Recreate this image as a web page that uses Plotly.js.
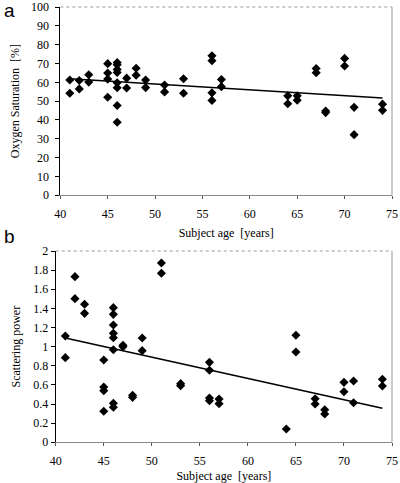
<!DOCTYPE html>
<html>
<head>
<meta charset="utf-8">
<script src="https://cdn.plot.ly/plotly-3.0.1.min.js"></script>
<style>
html,body{margin:0;padding:0;background:#fff;}
#chart{width:400px;height:483px;}
</style>
</head>
<body>
<div id="chart"></div>
<script>
// Panel a: oxygen saturation vs age
var ageA = [41,41,42,42,43,43,45,45,45,45,46,46,46,46,46,46,46,46,47,47,48,48,49,49,51,51,53,53,56,56,56,56,57,57,64,64,65,65,67,67,68,68,70,70,71,71,74,74];
var satA = [61.2,54.2,61.0,56.5,64.0,60.1,69.9,64.9,61.7,52.1,70.5,69.3,66.8,65.2,59.8,57.1,47.7,38.8,62.2,57.0,67.5,63.8,61.2,57.2,58.6,54.9,61.9,54.2,74.1,71.5,54.4,50.4,61.5,57.7,52.8,48.6,52.8,50.5,67.3,65.1,44.8,43.9,72.7,68.7,46.7,32.2,48.4,45.1];
var fitAgeA = [41, 74];
var fitSatA = [61.9, 51.7];

// Panel b: scattering power vs age
var ageB = [41,41,42,42,43,43,45,45,45,45,46,46,46,46,46,46,46,46,47,47,48,48,49,49,51,51,53,53,56,56,56,56,57,57,64,65,65,67,67,68,68,70,70,71,71,74,74];
var powB = [1.111,0.885,1.732,1.502,1.443,1.348,0.860,0.578,0.540,0.324,1.408,1.338,1.226,1.139,1.094,0.968,0.408,0.366,1.014,1.000,0.491,0.470,1.090,0.958,1.875,1.767,0.613,0.592,0.836,0.753,0.463,0.435,0.453,0.404,0.139,1.119,0.944,0.456,0.400,0.341,0.296,0.627,0.529,0.641,0.414,0.659,0.589];
var fitAgeB = [41, 74];
var fitPowB = [1.09, 0.355];

var xTicks = [40,45,50,55,60,65,70,75];
var yTicksA = [0,10,20,30,40,50,60,70,80,90,100];
var yTicksB = [0,0.2,0.4,0.6,0.8,1,1.2,1.4,1.6,1.8,2];
var yTickTextB = ['0','0.2','0.4','0.6','0.8','1','1.2','1.4','1.6','1.8','2'];

var serif = 'Liberation Serif';
var mk = {symbol:'diamond', size:7, color:'#000', line:{width:0}};

var traces = [
  {x:ageA, y:satA, type:'scatter', mode:'markers', marker:mk, xaxis:'x', yaxis:'y'},
  {x:fitAgeA, y:fitSatA, type:'scatter', mode:'lines', line:{color:'#000', width:1.6}, xaxis:'x', yaxis:'y'},
  {x:ageB, y:powB, type:'scatter', mode:'markers', marker:mk, xaxis:'x2', yaxis:'y2'},
  {x:fitAgeB, y:fitPowB, type:'scatter', mode:'lines', line:{color:'#000', width:1.6}, xaxis:'x2', yaxis:'y2'}
];

function xAxis(domain, anchor){
  return {
    domain: domain, anchor: anchor, range:[40,75], tickvals:xTicks,
    showgrid:false, zeroline:false, showline:true, linecolor:'#8a8a8a', linewidth:1,
    ticks:'outside', ticklen:3, tickcolor:'#555', tickwidth:1, ticklabelstandoff:4,
    ticklabeloverflow:'allow',
    tickfont:{family:serif, size:12, color:'#000'},
    title:{text:'Subject age\u00a0 [years]', font:{family:serif, size:12, color:'#000'}, standoff:8},
    automargin:false, fixedrange:true
  };
}

var layout = {
  width:400, height:483,
  margin:{l:0, r:0, t:0, b:0},
  paper_bgcolor:'#fff', plot_bgcolor:'#fff',
  showlegend:false,
  font:{family:serif},
  xaxis: xAxis([0.1508, 0.980], 'y'),
  yaxis: {
    domain:[0.5957, 0.9855], anchor:'x', range:[0,100], tickvals:yTicksA,
    showgrid:false, zeroline:false, showline:true, linecolor:'#000', linewidth:1,
    ticks:'outside', ticklen:4, tickcolor:'#000', ticklabelstandoff:4,
    ticklabeloverflow:'allow',
    tickfont:{family:serif, size:12, color:'#000'},
    title:{text:'Oxygen Saturation\u00a0 [%]', font:{family:serif, size:12, color:'#000'}, standoff:8},
    automargin:false, fixedrange:true
  },
  xaxis2: xAxis([0.1393, 0.980], 'y2'),
  yaxis2: {
    domain:[0.0843, 0.4803], anchor:'x2', range:[0,2], tickvals:yTicksB, ticktext:yTickTextB,
    showgrid:false, zeroline:false, showline:true, linecolor:'#000', linewidth:1,
    ticks:'outside', ticklen:4, tickcolor:'#000',
    ticklabeloverflow:'allow',
    tickfont:{family:serif, size:12, color:'#000'},
    title:{text:'Scattering power', font:{family:serif, size:12, color:'#000'}, standoff:10},
    automargin:false, fixedrange:true
  },
  shapes: [
    {type:'line', xref:'x domain', yref:'y domain', x0:0, x1:1, y0:1, y1:1, line:{color:'#999', width:1, dash:'dot'}},
    {type:'line', xref:'x domain', yref:'y domain', x0:1, x1:1, y0:0, y1:1, line:{color:'#999', width:1}},
    {type:'line', xref:'x2 domain', yref:'y2 domain', x0:0, x1:1, y0:1, y1:1, line:{color:'#999', width:1, dash:'dot'}},
    {type:'line', xref:'x2 domain', yref:'y2 domain', x0:1, x1:1, y0:0, y1:1, line:{color:'#999', width:1}}
  ],
  annotations: [
    {text:'a', xref:'paper', yref:'paper', x:0.005, y:1.005, xanchor:'left', yanchor:'top', showarrow:false, font:{family:'Liberation Sans', size:19, color:'#000'}},
    {text:'b', xref:'paper', yref:'paper', x:0.005, y:0.537, xanchor:'left', yanchor:'top', showarrow:false, font:{family:'Liberation Sans', size:19, color:'#000'}}
  ]
};

Plotly.newPlot('chart', traces, layout, {staticPlot:true, displayModeBar:false});
</script>
</body>
</html>
